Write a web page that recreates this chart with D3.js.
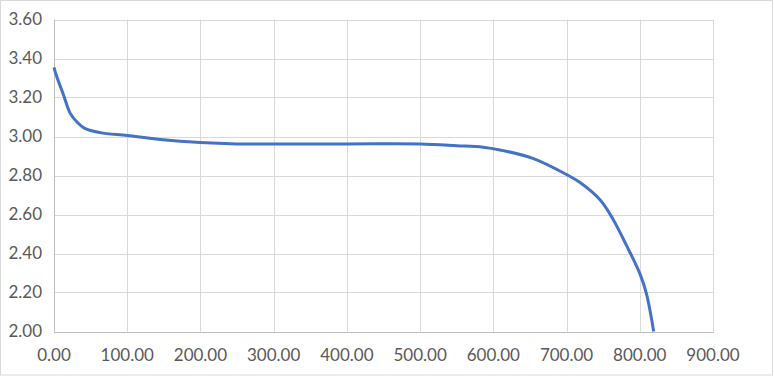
<!DOCTYPE html>
<html>
<head>
<meta charset="utf-8">
<script src="https://cdn.jsdelivr.net/npm/d3@7.9.0/dist/d3.min.js"></script>
<style>
  body { margin: 0; background: #fff; }
  svg text { font-family: Lato, "Open Sans", sans-serif; font-size: 17px; fill: #595959; }
</style>
</head>
<body>
<svg id="chart" width="774" height="376"></svg>
<script>
// capacity (x) vs voltage (y)
const capacity = [0, 3, 13, 22, 31, 42, 63, 100, 145, 200, 250, 300, 400, 500, 550, 586, 609, 654, 700, 718, 746, 764, 782, 800, 809, 819];
const voltage  = [3.355, 3.315, 3.213, 3.12, 3.076, 3.042, 3.02, 3.005, 2.985, 2.969, 2.962, 2.962, 2.962, 2.962, 2.953, 2.945, 2.931, 2.888, 2.805, 2.765, 2.674, 2.572, 2.44, 2.298, 2.196, 2.00];
const xTicks = [0, 100, 200, 300, 400, 500, 600, 700, 800, 900];
const yTicks = [2.0, 2.2, 2.4, 2.6, 2.8, 3.0, 3.2, 3.4, 3.6];

const svg = d3.select('#chart');
const plotL = 54, plotR = 713, plotT = 19.5, plotB = 331.5;

const x = d3.scaleLinear().domain([0, 900]).range([plotL, plotR]);
const y = d3.scaleLinear().domain([2.0, 3.6]).range([plotB, plotT]);

// chart border
svg.append('rect')
  .attr('x', 0.5).attr('y', 0.5)
  .attr('width', 772).attr('height', 374.5)
  .attr('fill', 'none').attr('stroke', '#d9d9d9');

// gridlines
svg.append('g').selectAll('line').data(yTicks.slice(1)).join('line')
  .attr('x1', plotL).attr('x2', plotR)
  .attr('y1', d => Math.round(y(d)) + 0.5).attr('y2', d => Math.round(y(d)) + 0.5)
  .attr('stroke', '#d9d9d9');
svg.append('g').selectAll('line').data(xTicks.slice(1)).join('line')
  .attr('y1', plotT).attr('y2', plotB)
  .attr('x1', d => Math.round(x(d)) + 0.5).attr('x2', d => Math.round(x(d)) + 0.5)
  .attr('stroke', '#d9d9d9');

// axis lines
svg.append('line')
  .attr('x1', plotL + 0.5).attr('x2', plotL + 0.5)
  .attr('y1', plotT).attr('y2', plotB + 0.5)
  .attr('stroke', '#bfbfbf');
svg.append('line')
  .attr('x1', plotL).attr('x2', plotR + 1)
  .attr('y1', Math.round(plotB) + 0.5).attr('y2', Math.round(plotB) + 0.5)
  .attr('stroke', '#bfbfbf');

// tick labels
svg.append('g').selectAll('text').data(yTicks).join('text')
  .attr('x', 42).attr('y', d => y(d))
  .attr('text-anchor', 'end').attr('dy', '0.35em')
  .text(d => d.toFixed(2));
svg.append('g').selectAll('text').data(xTicks).join('text')
  .attr('x', d => x(d)).attr('y', 355)
  .attr('text-anchor', 'middle').attr('dy', '0.35em')
  .text(d => d.toFixed(2));

// curve
const pts = capacity.map((c, i) => [c, voltage[i]]);
const line = d3.line()
  .x(d => x(d[0])).y(d => y(d[1]))
  .curve(d3.curveCatmullRom.alpha(0.5));
svg.append('path')
  .datum(pts)
  .attr('d', line)
  .attr('fill', 'none')
  .attr('stroke', '#4472c4')
  .attr('stroke-width', 3)
  .attr('stroke-linejoin', 'round');
</script>
</body>
</html>
